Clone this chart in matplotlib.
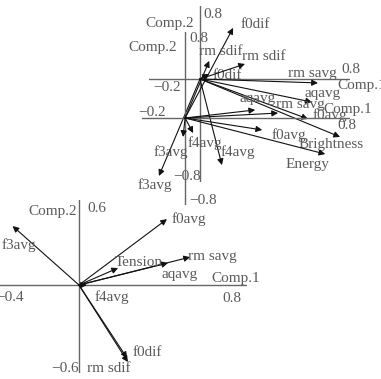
import matplotlib
matplotlib.use('Agg')
import matplotlib.pyplot as plt

# three overlapping loading biplots (component 1 vs component 2)

# top plot (origin upper right)
a_names = ['f0dif', 'rm sdif', 'rm savg', 'aqavg', 'f0avg', 'Brightness', 'f4avg', 'f3avg']
a_comp1 = [0.048, 0.24, 0.629, 0.597, 0.576, 0.747, 0.117, -0.219]
a_comp2 = [0.027, 0.08, -0.021, -0.123, -0.213, -0.309, -0.459, -0.517]

# middle plot
b_names = ['f0dif', 'rm sdif', 'aqavg', 'rm savg', 'f0avg', 'Energy', 'f4avg', 'f3avg']
b_comp1 = [0.233, 0.117, 0.340, 0.451, 0.374, 0.680, 0.039, -0.010]
b_comp2 = [0.437, 0.277, 0.039, 0.024, -0.058, -0.175, -0.073, -0.092]

# bottom plot
c_names = ['f3avg', 'f0avg', 'rm savg', 'aqavg', 'Tension', 'f4avg', 'f0dif', 'rm sdif']
c_comp1 = [-0.316, 0.419, 0.529, 0.424, 0.186, 0.038, 0.233, 0.229]
c_comp2 = [0.281, 0.314, 0.133, 0.105, 0.081, 0.0, -0.367, -0.348]

# axis range text shown at the ends of each axis (left, right, bottom, top)
a_range = ['\u22120.2', '0.8', '\u22120.8', '0.8']
b_range = ['\u22120.2', '0.8', '\u22120.8', '0.8']
c_range = ['\u22120.4', '0.8', '\u22120.6', '0.6']

W, H = 381, 379
TXT = '#5a5a5a'
FONT = 'Liberation Serif'

fig = plt.figure(figsize=(W / 100, H / 100), dpi=100)


def panel(px, py, xlim, ylim):
    # px, py: pixel extents of the axis lines (image coords, y down)
    ax = fig.add_axes([px[0] / W, 1 - py[1] / H, (px[1] - px[0]) / W, (py[1] - py[0]) / H])
    ax.set_xlim(*xlim)
    ax.set_ylim(*ylim)
    ax.axis('off')
    ax.axhline(0, color='#666666', lw=1)
    ax.axvline(0, color='#666666', lw=1)
    return ax


def note(ax, s, xy, off, ha='center'):
    ax.annotate(s, xy=xy, xytext=(off[0], -off[1]), textcoords='offset pixels',
                ha=ha, va='center', fontsize=11, family=FONT, color=TXT,
                annotation_clip=False)


def arrows(ax, names, c1, c2, offs):
    for n, x, y, o in zip(names, c1, c2, offs):
        ax.annotate('', xy=(x, y), xytext=(0, 0), annotation_clip=False,
                    arrowprops=dict(arrowstyle='-|>', color='#111111', lw=0.8,
                                    mutation_scale=9, shrinkA=0, shrinkB=0))
        note(ax, n, (x, y), o)


def ends(ax, rng, offs, c1_off, c2_off):
    x0, x1 = ax.get_xlim()
    y0, y1 = ax.get_ylim()
    note(ax, rng[0], (x0, 0), offs[0])
    note(ax, rng[1], (x1, 0), offs[1])
    note(ax, rng[2], (0, y0), offs[2])
    note(ax, rng[3], (0, y1), offs[3])
    note(ax, 'Comp.1', (x1, 0), c1_off)
    note(ax, 'Comp.2', (0, y1), c2_off)


# top plot
ax_a = panel((149, 350), (6, 182), (-0.272, 0.8), (-0.549, 0.389))
arrows(ax_a, a_names, a_comp1, a_comp2,
       [(18, 2), (19, -7), (-6, -9), (11, -9), (22, -4), (-9, 8), (16, -13), (-4, 9)])
ends(ax_a, a_range, [(18, 9), (1, -9), (-13, -5), (13, 9)], (12, 7), (-30, 18))

# middle plot
ax_b = panel((142, 350), (32, 205), (-0.209, 0.8), (-0.422, 0.417))
arrows(ax_b, b_names, b_comp1, b_comp2,
       [(22, -3), (12, -9), (2, -11), (22, -9), (27, 5), (-18, 10), (12, 10), (-12, 15)])
ends(ax_b, b_range, [(10, -5), (-3, 8), (18, -5), (14, 6)], (-2, -8), (-32, 15))

# bottom plot
ax_c = panel((0, 247), (200, 373), (-0.376, 0.8), (-0.419, 0.405))
arrows(ax_c, c_names, c_comp1, c_comp2,
       [(6, 19), (22, 0), (22, -1), (12, 12), (21, -6), (25, 12), (19, -10), (-18, 10)])
ends(ax_c, c_range, [(10, 12), (-15, 13), (-14, -4), (18, 9)], (-11, -7), (-26, 12))

fig.savefig('out.png', dpi=100)
